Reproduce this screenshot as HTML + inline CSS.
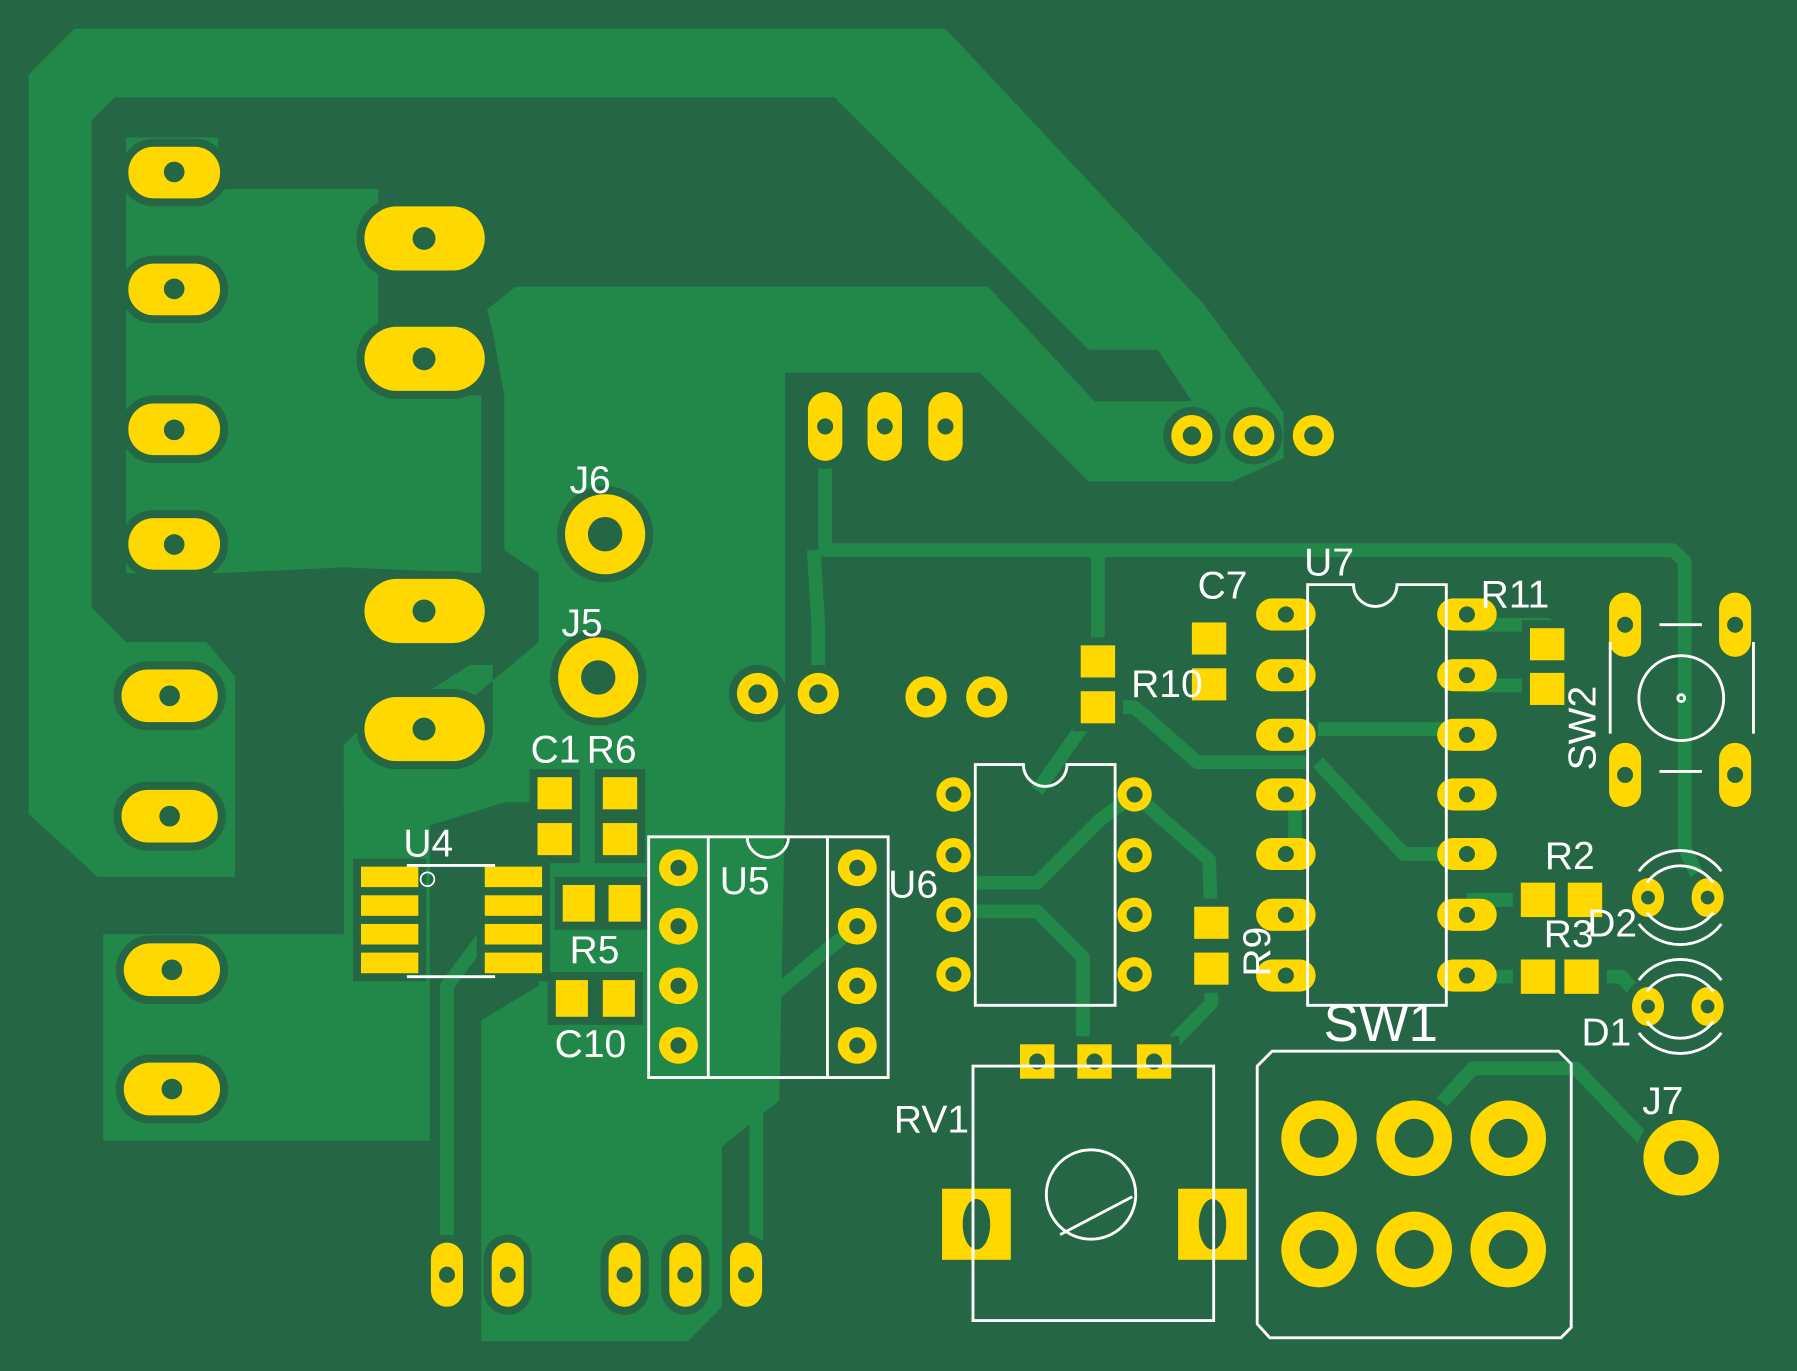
<!DOCTYPE html>
<html><head><meta charset="utf-8"><style>
html,body{margin:0;padding:0;background:#256645;}
svg{display:block}
text{font-family:"Liberation Sans","DejaVu Sans",sans-serif;fill:#fff;font-size:34px}
</style></head><body>
<svg width="1797" height="1371" viewBox="0 0 1568 1196" preserveAspectRatio="none" xmlns="http://www.w3.org/2000/svg">
<rect width="1568" height="1196" fill="#256645"/>
<g fill="#21884a">
<polygon points="25,65 65,25 825,25 1050,265 1120,360 1120,400 1075,420 1075,380 1040,350 1010,305 950,305 728,85 100,85 80,105 80,530 110,560 180,560 205,590 205,765 85,765 25,710"/>
<polygon points="425,270 450,250 862,250 955,350 1040,350 1075,380 1075,420 950,420 855,325 685,325 685,700 680,960 630,1000 630,1140 600,1170 420,1170 420,890 470,860 470,700 430,700 430,580 410,580 300,650 300,700 375,700 375,640 470,560 470,500 440,480 440,345 430,290"/>
<polygon points="110,120 190,120 190,165 330,165 330,345 420,345 420,500 300,495 190,500 110,500"/>
<polygon points="90,815 375,815 375,995 90,995"/>
<polygon points="300,650 330,620 420,620 440,650 440,700 375,720 375,815 300,815"/>
</g>
<g stroke="#21884a" stroke-width="12" fill="none" stroke-linejoin="round">
<polyline points="720,372 720,480 1460,480 1470,490 1470,740 1490,783"/>
<polyline points="714,605 714,545 710,480"/>
<polyline points="958,480 958,577"/>
<polyline points="958,617 940,640 905,690"/>
<polyline points="958,617 990,617 1045,665 1140,665"/>
<polyline points="1150,636 1280,636"/>
<polyline points="1150,665 1225,745 1280,745"/>
<polyline points="1280,598 1350,598"/>
<polyline points="1280,785 1343,785"/>
<polyline points="1280,852 1343,852"/>
<polyline points="1380,852 1415,852 1438,878"/>
<polyline points="850,770 905,770 960,715 990,693"/>
<polyline points="850,795 905,795 945,835 945,930"/>
<polyline points="990,693 1055,750 1057,805"/>
<polyline points="1057,845 1057,875 1007,926"/>
<polyline points="1255,965 1285,932 1375,932 1440,1000"/>
<polyline points="390,1112 390,860 420,820 448,790"/>
<polyline points="545,1112 545,740"/>
<polyline points="598,1112 560,1080 560,900"/>
<polyline points="651,1112 660,1090 660,880 720,830 748,808"/>
<polyline points="1280,545 1350,545 1350,562"/>
<polyline points="1130,740 1130,700"/>
</g>
<g fill="#ffd800" stroke="#256645" stroke-width="14" paint-order="stroke">
<rect x="112" y="128" width="80" height="45" rx="22"/><rect x="112" y="230" width="80" height="45" rx="22"/>
<rect x="112" y="352" width="80" height="45" rx="22"/><rect x="112" y="452" width="80" height="45" rx="22"/>
<rect x="106" y="584" width="84" height="46" rx="23"/><rect x="106" y="689" width="84" height="46" rx="23"/>
<rect x="108" y="823" width="84" height="46" rx="23"/><rect x="108" y="927" width="84" height="46" rx="23"/>
<rect x="318" y="180" width="105" height="56" rx="28"/><rect x="318" y="285" width="105" height="56" rx="28"/>
<rect x="318" y="505" width="105" height="56" rx="28"/><rect x="318" y="608" width="105" height="56" rx="28"/>
<rect x="705" y="342" width="30" height="60" rx="15"/><rect x="757" y="342" width="30" height="60" rx="15"/><rect x="810" y="342" width="30" height="60" rx="15"/>
<rect x="376" y="1084" width="28" height="56" rx="14"/><rect x="429" y="1084" width="28" height="56" rx="14"/><rect x="531" y="1084" width="28" height="56" rx="14"/><rect x="584" y="1084" width="28" height="56" rx="14"/><rect x="637" y="1084" width="28" height="56" rx="14"/>
<circle cx="1040" cy="380" r="18"/><circle cx="1094" cy="380" r="18"/><circle cx="1146" cy="380" r="18"/>
<circle cx="661" cy="605" r="18"/><circle cx="714" cy="605" r="18"/><circle cx="808" cy="608" r="18"/><circle cx="861" cy="608" r="18"/>
<circle cx="528" cy="466" r="35"/><circle cx="522" cy="591" r="35"/><circle cx="1467" cy="1010" r="33"/>
<circle cx="1151" cy="993" r="33"/><circle cx="1234" cy="993" r="33"/><circle cx="1316" cy="993" r="33"/>
<circle cx="1151" cy="1090" r="33"/><circle cx="1234" cy="1090" r="33"/><circle cx="1316" cy="1090" r="33"/>
<rect x="469" y="678" width="30" height="28"/><rect x="469" y="718" width="30" height="28"/>
<rect x="526" y="678" width="30" height="28"/><rect x="526" y="718" width="30" height="28"/>
<rect x="315" y="756" width="50" height="18"/><rect x="315" y="781" width="50" height="18"/><rect x="315" y="806" width="50" height="18"/><rect x="315" y="831" width="50" height="18"/>
<rect x="423" y="756" width="50" height="18"/><rect x="423" y="781" width="50" height="18"/><rect x="423" y="806" width="50" height="18"/><rect x="423" y="831" width="50" height="18"/>
<rect x="491" y="772" width="28" height="32"/><rect x="531" y="772" width="28" height="32"/>
<rect x="485" y="855" width="28" height="32"/><rect x="526" y="855" width="28" height="32"/>
<rect x="1040" y="543" width="30" height="28"/><rect x="1040" y="583" width="30" height="28"/>
<rect x="943" y="563" width="30" height="28"/><rect x="943" y="603" width="30" height="28"/>
<rect x="1042" y="791" width="30" height="28"/><rect x="1042" y="831" width="30" height="28"/>
<rect x="1335" y="548" width="30" height="28"/><rect x="1335" y="587" width="30" height="28"/>
<rect x="1327" y="770" width="30" height="30"/><rect x="1368" y="770" width="30" height="30"/>
<rect x="1327" y="837" width="30" height="30"/><rect x="1365" y="837" width="30" height="30"/>
<rect x="1404" y="517" width="28" height="56" rx="14"/><rect x="1500" y="517" width="28" height="56" rx="14"/>
<rect x="1404" y="648" width="28" height="56" rx="14"/><rect x="1500" y="648" width="28" height="56" rx="14"/>
<ellipse cx="1438" cy="783" rx="14" ry="17"/><ellipse cx="1490" cy="783" rx="14" ry="17"/>
<ellipse cx="1438" cy="878" rx="14" ry="17"/><ellipse cx="1490" cy="878" rx="14" ry="17"/>
<rect x="890" y="911" width="30" height="30"/><rect x="940" y="911" width="30" height="30"/><rect x="992" y="911" width="30" height="30"/>
<rect x="822" y="1037" width="60" height="62"/><rect x="1028" y="1037" width="60" height="62"/>
</g>
<g fill="#ffd800">
<ellipse cx="592" cy="757" rx="17" ry="16"/><ellipse cx="592" cy="808" rx="17" ry="16"/><ellipse cx="592" cy="860" rx="17" ry="16"/><ellipse cx="592" cy="912" rx="17" ry="16"/>
<ellipse cx="748" cy="757" rx="17" ry="16"/><ellipse cx="748" cy="808" rx="17" ry="16"/><ellipse cx="748" cy="860" rx="17" ry="16"/><ellipse cx="748" cy="912" rx="17" ry="16"/>
<circle cx="832" cy="693" r="15"/><circle cx="832" cy="746" r="15"/><circle cx="832" cy="798" r="15"/><circle cx="832" cy="850" r="15"/>
<circle cx="990" cy="693" r="15"/><circle cx="990" cy="746" r="15"/><circle cx="990" cy="798" r="15"/><circle cx="990" cy="850" r="15"/>
<rect x="1096" y="522" width="52" height="28" rx="14"/><rect x="1096" y="575" width="52" height="28" rx="14"/><rect x="1096" y="627" width="52" height="28" rx="14"/><rect x="1096" y="679" width="52" height="28" rx="14"/><rect x="1096" y="731" width="52" height="28" rx="14"/><rect x="1096" y="784" width="52" height="28" rx="14"/><rect x="1096" y="837" width="52" height="28" rx="14"/>
<rect x="1254" y="522" width="52" height="28" rx="14"/><rect x="1254" y="575" width="52" height="28" rx="14"/><rect x="1254" y="627" width="52" height="28" rx="14"/><rect x="1254" y="679" width="52" height="28" rx="14"/><rect x="1254" y="731" width="52" height="28" rx="14"/><rect x="1254" y="784" width="52" height="28" rx="14"/><rect x="1254" y="837" width="52" height="28" rx="14"/>
</g>
<g fill="#256645">
<circle cx="152" cy="150" r="9"/><circle cx="152" cy="252" r="9"/><circle cx="152" cy="375" r="9"/><circle cx="152" cy="475" r="9"/>
<circle cx="148" cy="607" r="9"/><circle cx="148" cy="712" r="9"/><circle cx="150" cy="846" r="9"/><circle cx="150" cy="950" r="9"/>
<circle cx="370" cy="208" r="10"/><circle cx="370" cy="313" r="10"/><circle cx="370" cy="533" r="10"/><circle cx="370" cy="636" r="10"/>
<circle cx="720" cy="372" r="7"/><circle cx="772" cy="372" r="7"/><circle cx="825" cy="372" r="7"/>
<circle cx="390" cy="1112" r="7"/><circle cx="443" cy="1112" r="7"/><circle cx="545" cy="1112" r="7"/><circle cx="598" cy="1112" r="7"/><circle cx="651" cy="1112" r="7"/>
<circle cx="1040" cy="380" r="8"/><circle cx="1094" cy="380" r="8"/><circle cx="1146" cy="380" r="8"/>
<circle cx="661" cy="605" r="8"/><circle cx="714" cy="605" r="8"/><circle cx="808" cy="608" r="8"/><circle cx="861" cy="608" r="8"/>
<circle cx="528" cy="466" r="15"/><circle cx="522" cy="591" r="15"/><circle cx="1467" cy="1010" r="15"/>
<circle cx="1151" cy="993" r="17"/><circle cx="1234" cy="993" r="17"/><circle cx="1316" cy="993" r="17"/>
<circle cx="1151" cy="1090" r="17"/><circle cx="1234" cy="1090" r="17"/><circle cx="1316" cy="1090" r="17"/>
<circle cx="592" cy="757" r="7"/><circle cx="592" cy="808" r="7"/><circle cx="592" cy="860" r="7"/><circle cx="592" cy="912" r="7"/>
<circle cx="748" cy="757" r="7"/><circle cx="748" cy="808" r="7"/><circle cx="748" cy="860" r="7"/><circle cx="748" cy="912" r="7"/>
<circle cx="832" cy="693" r="7"/><circle cx="832" cy="746" r="7"/><circle cx="832" cy="798" r="7"/><circle cx="832" cy="850" r="7"/>
<circle cx="990" cy="693" r="7"/><circle cx="990" cy="746" r="7"/><circle cx="990" cy="798" r="7"/><circle cx="990" cy="850" r="7"/>
<circle cx="1122" cy="536" r="7"/><circle cx="1122" cy="589" r="7"/><circle cx="1122" cy="641" r="7"/><circle cx="1122" cy="693" r="7"/><circle cx="1122" cy="745" r="7"/><circle cx="1122" cy="798" r="7"/><circle cx="1122" cy="851" r="7"/>
<circle cx="1280" cy="536" r="7"/><circle cx="1280" cy="589" r="7"/><circle cx="1280" cy="641" r="7"/><circle cx="1280" cy="693" r="7"/><circle cx="1280" cy="745" r="7"/><circle cx="1280" cy="798" r="7"/><circle cx="1280" cy="851" r="7"/>
<circle cx="1418" cy="545" r="7"/><circle cx="1514" cy="545" r="7"/><circle cx="1418" cy="676" r="7"/><circle cx="1514" cy="676" r="7"/>
<circle cx="1438" cy="783" r="6"/><circle cx="1490" cy="783" r="6"/><circle cx="1438" cy="878" r="6"/><circle cx="1490" cy="878" r="6"/>
<circle cx="905" cy="926" r="7"/><circle cx="955" cy="926" r="7"/><circle cx="1007" cy="926" r="7"/>
<ellipse cx="852" cy="1068" rx="12" ry="22"/><ellipse cx="1058" cy="1068" rx="12" ry="22"/>
</g>
<g stroke="#fff" stroke-width="2.5" fill="none">
<rect x="566" y="730" width="209" height="210"/><line x1="618" y1="730" x2="618" y2="940"/><line x1="722" y1="730" x2="722" y2="940"/>
<path d="M652,730 a18,18 0 0 0 36,0"/>
<path d="M851,667 H893 a19,19 0 0 0 38,0 H973 V877 H851 Z"/>
<path d="M1141,510 H1181 a19,19 0 0 0 38,0 H1262 V877 H1141 Z"/>
<rect x="849" y="930" width="210" height="222"/><circle cx="952" cy="1042" r="39"/><line x1="925" y1="1077" x2="988" y2="1044"/>
<path d="M1110,917 H1360 L1371,928 V1158 L1362,1167 H1108 L1097,1155 V930 Z"/>
<path d="M1405,560 V640 M1530,560 V640 M1448,545 H1485 M1448,673 H1485"/><circle cx="1467" cy="609" r="37"/><circle cx="1467" cy="609" r="3"/>
<line x1="355" y1="755" x2="432" y2="755"/><line x1="355" y1="852" x2="432" y2="852"/><circle cx="373" cy="767" r="6" stroke-width="1.5"/>
<path d="M1430,760 a45,45 0 0 1 72,0 M1430,806 a45,45 0 0 0 72,0 M1437,770 a36,36 0 0 1 58,0 M1437,796 a36,36 0 0 0 58,0"/>
<path d="M1430,855 a45,45 0 0 1 72,0 M1430,901 a45,45 0 0 0 72,0 M1437,865 a36,36 0 0 1 58,0 M1437,891 a36,36 0 0 0 58,0"/>
</g>
<text x="497" y="430">J6</text><text x="490" y="555">J5</text>
<text x="463" y="665">C1</text><text x="512" y="665">R6</text>
<text x="352" y="747">U4</text><text x="628" y="780">U5</text><text x="775" y="783">U6</text>
<text x="497" y="840">R5</text><text x="484" y="922">C10</text>
<text x="1045" y="522">C7</text><text x="1138" y="502">U7</text><text x="1292" y="530">R11</text>
<text x="987" y="608">R10</text>
<text transform="translate(1108,852) rotate(-90)">R9</text>
<text transform="translate(1392,672) rotate(-90)">SW2</text>
<text x="1348" y="758">R2</text><text x="1347" y="826">R3</text><text x="1385" y="817">D2</text><text x="1380" y="912">D1</text>
<text x="1155" y="908" style="font-size:46px">SW1</text><text x="1433" y="972">J7</text><text x="780" y="988">RV1</text>
</svg>
</body></html>
